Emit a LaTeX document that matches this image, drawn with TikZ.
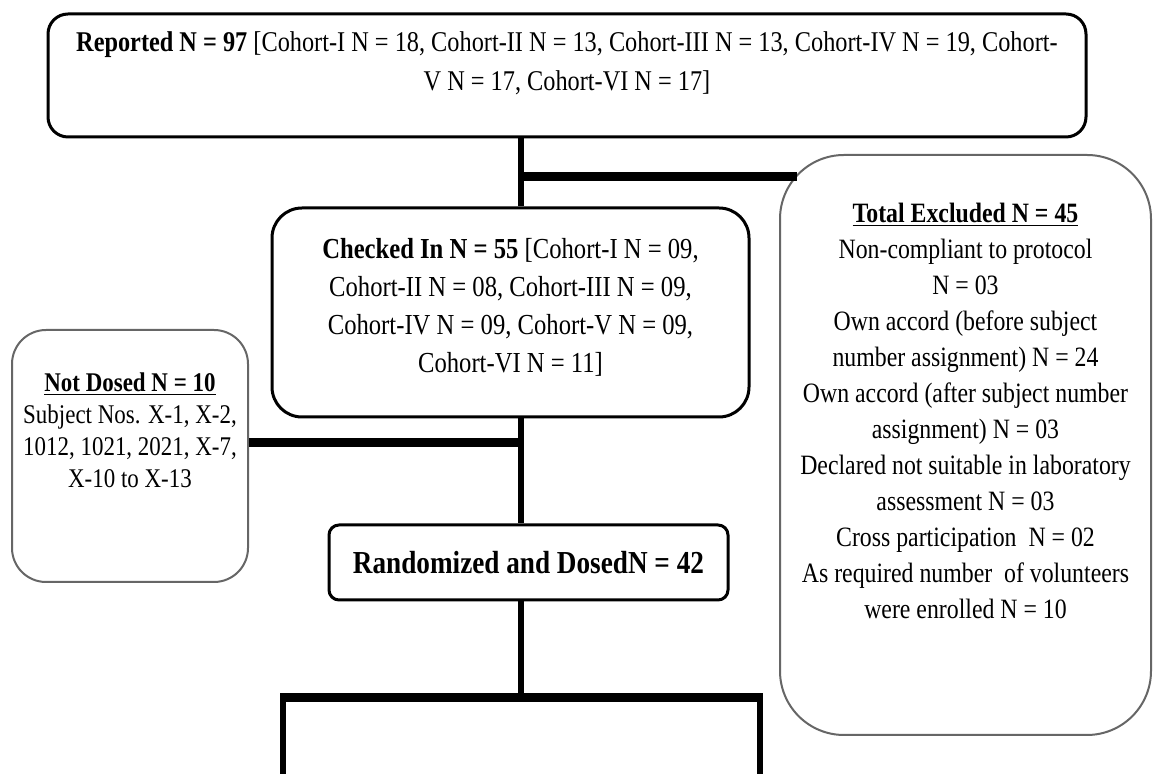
\documentclass[tikz,border=0pt]{standalone}
\usepackage{fontspec}
\setmainfont{Liberation Serif}[FakeStretch=0.85]

% text block of fixed height, set from the top
\newcommand{\topblock}[4]{\parbox[c][#1][t]{#2}{\centering\vspace*{#3}#4}}

\begin{document}
\begin{tikzpicture}[
					x = 0.5pt, y = -0.5pt,
					every node/.style = {inner sep = 0pt, align = center},
					box/.style = {draw, line width = 1.5pt, fill = white},
					softbox/.style = {draw = black!60, line width = 1pt, fill = white},
					link/.style = {line width = 3pt},
					thicklink/.style = {line width = 4.5pt}]
					\useasboundingbox (0,0) rectangle (1153,774);

					\node[box, rounded corners = 10pt, minimum width = 519pt, minimum height = 61.5pt,
						font = \fontsize{14.3pt}{19.5pt}\selectfont] (rep) at (567,75.5)
						{\topblock{61.5pt}{510pt}{9pt}{\textbf{Reported N = 97} [Cohort-I N = 18, Cohort-II N = 13, Cohort-III N = 13, Cohort-IV N = 19, Cohort-\\V N = 17, Cohort-VI N = 17]}};

					\node[box, rounded corners = 15pt, minimum width = 238.5pt, minimum height = 104.5pt,
						font = \fontsize{14.5pt}{19pt}\selectfont] (chk) at (510.5,312.5)
						{\topblock{104.5pt}{236pt}{15pt}{\textbf{Checked In N = 55} [Cohort-I N = 09,\\Cohort-II N = 08, Cohort-III N = 09,\\Cohort-IV N = 09, Cohort-V N = 09,\\Cohort-VI N = 11]}};

					\node[softbox, rounded corners = 17pt, minimum width = 118pt, minimum height = 126pt,
						font = \fontsize{13.5pt}{16pt}\selectfont] (nd) at (130,456)
						{\topblock{126pt}{116pt}{21.5pt}{\underline{\textbf{Not Dosed N = 10}}\\Subject Nos. X-1, X-2,\\1012, 1021, 2021, X-7,\\X-10 to X-13}};

					\node[box, rounded corners = 5pt, minimum width = 199.5pt, minimum height = 37.5pt,
						font = \fontsize{16pt}{19pt}\selectfont\bfseries] (rnd) at (528.5,562.5)
						{Randomized and DosedN = 42};

					\node[softbox, rounded corners = 32pt, minimum width = 185.5pt, minimum height = 290pt,
						font = \fontsize{14pt}{18pt}\selectfont] (exc) at (965.5,445)
						{\topblock{290pt}{184pt}{24pt}{\underline{\textbf{Total Excluded N = 45}}\\Non-compliant to protocol\\N = 03\\Own accord (before subject\\number assignment) N = 24\\Own accord (after subject number\\assignment) N = 03\\Declared not suitable in laboratory\\assessment N = 03\\Cross participation\ \ N = 02\\As required number\ \ of volunteers\\were enrolled N = 10}};

					\coordinate (spine) at (521,0);
					\coordinate (tj) at (797,177);
					\coordinate (dj) at (521,443);
					\coordinate (bar) at (521,698);
					\coordinate (armL) at (283,774);
					\coordinate (armR) at (760,774);

					\draw[link] (rep.south -| spine) -- (chk.north -| spine);
					\draw[thicklink] ([xshift = -1.5pt]spine |- tj) -- (tj);
					\draw[thicklink] (nd.east |- dj) -- (dj);
					\draw[link] (chk.south -| spine) -- (rnd.north -| spine);
					\draw[link] (rnd.south -| spine) -- (spine |- bar);

					\draw[thicklink] ([xshift = -1.5pt]armL |- bar) -- ([xshift = 1.5pt]armR |- bar);
					\draw[link] ([yshift = -2pt]armL |- bar) -- (armL);
					\draw[link] ([yshift = -2pt]armR |- bar) -- (armR);

				\end{tikzpicture}
\end{document}
